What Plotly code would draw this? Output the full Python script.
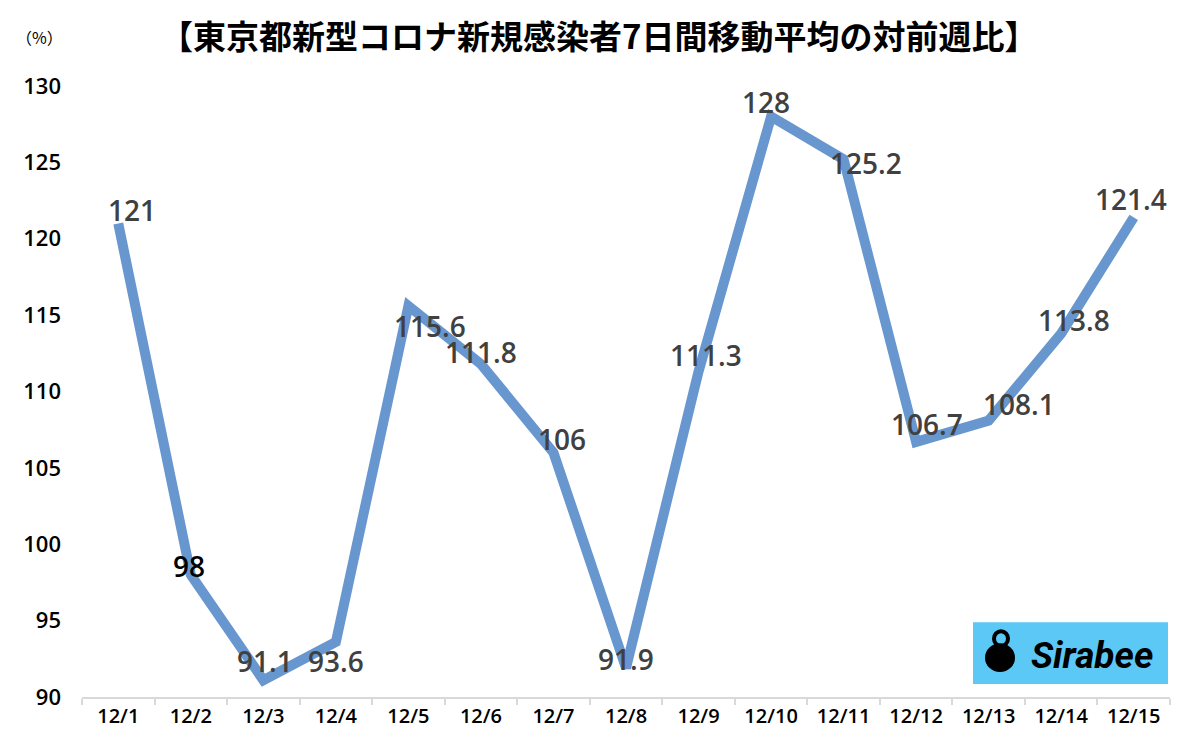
import plotly.graph_objects as go

dates = ["12/1", "12/2", "12/3", "12/4", "12/5", "12/6", "12/7", "12/8",
         "12/9", "12/10", "12/11", "12/12", "12/13", "12/14", "12/15"]
ratio = [121, 98, 91.1, 93.6, 115.6, 111.8, 106, 91.9,
         111.3, 128, 125.2, 106.7, 108.1, 113.8, 121.4]
value_labels = ["121", "98", "91.1", "93.6", "115.6", "111.8", "106", "91.9",
                "111.3", "128", "125.2", "106.7", "108.1", "113.8", "121.4"]
y_ticks = [90, 95, 100, 105, 110, 115, 120, 125, 130]

# label offsets in pixels (style only)
label_dx = [14, -2, 2, 0, 22, 0, 9, 0, 7, -5, 22, 11, 30, 13, -3]
label_dy = [13, 9, 19, -19, -20, 12, 14, 9, 17, 15, -4, 18, 17, 13, 18]

FONT = "Open Sans"
CJK = "Noto Sans CJK JP"

fig = go.Figure()
fig.add_trace(go.Scatter(
    x=dates, y=ratio, mode="lines",
    line=dict(color="#6897CF", width=10),
    hoverinfo="skip", showlegend=False,
))

for i, (d, v, t) in enumerate(zip(dates, ratio, value_labels)):
    fig.add_annotation(
        x=d, y=v, text=t, showarrow=False,
        xshift=label_dx[i], yshift=label_dy[i],
        font=dict(family=FONT, size=28, weight=600,
                  color="#000000" if i == 1 else "#404040"),
    )

fig.add_annotation(
    xref="paper", yref="paper", x=(598 - 82) / 1088, y=1.0, yshift=51,
    text="<b>【東京都新型コロナ新規感染者7日間移動平均の対前週比】</b>",
    showarrow=False, font=dict(family=CJK, size=33, color="#000000"),
    xanchor="center", yanchor="middle",
)
fig.add_annotation(
    xref="paper", yref="paper", x=(39 - 82) / 1088, y=1.0, yshift=49,
    text="（%）", showarrow=False,
    font=dict(family=CJK, size=16, color="#000000"),
    xanchor="center", yanchor="middle",
)

# Sirabee logo box
fig.add_shape(type="rect", xref="paper", yref="paper",
              x0=(973 - 82) / 1088, x1=(1168 - 82) / 1088,
              y0=(699 - 686) / 613, y1=(699 - 624) / 613,
              fillcolor="#5BC8F5", line=dict(width=0), layer="above")
fig.add_annotation(
    xref="paper", yref="paper", x=(1092 - 82) / 1088, y=(699 - 657) / 613,
    text="<b><i>Sirabee</i></b>", showarrow=False,
    font=dict(family="Roboto", size=37, color="#000000"),
    xanchor="center", yanchor="middle",
)
fig.add_shape(type="circle", xref="paper", yref="paper",
              x0=(985 - 82) / 1088, x1=(1015 - 82) / 1088,
              y0=(699 - 674) / 613, y1=(699 - 645) / 613,
              fillcolor="#000000", line=dict(width=0), layer="above")
fig.add_shape(type="circle", xref="paper", yref="paper",
              x0=(994 - 82) / 1088, x1=(1008 - 82) / 1088,
              y0=(699 - 648) / 613, y1=(699 - 633) / 613,
              fillcolor="rgba(0,0,0,0)", line=dict(width=4, color="#000000"),
              layer="above")

fig.update_layout(
    width=1200, height=741,
    margin=dict(l=82, r=30, t=86, b=42),
    paper_bgcolor="white", plot_bgcolor="white",
    font=dict(family=FONT, color="#000000"),
    xaxis=dict(
        type="category", range=[-0.5, 14.5],
        showgrid=False, showline=True, linecolor="#D9D9D9", linewidth=2,
        ticks="outside", tickson="boundaries", tickcolor="#D9D9D9",
        ticklen=6, tickwidth=2,
        tickfont=dict(family=FONT, size=20, weight=600, color="#000000"),
        zeroline=False,
    ),
    yaxis=dict(
        range=[90, 130], tickvals=y_ticks,
        showgrid=False, showline=False, zeroline=False,
        ticks="", ticklabelstandoff=20,
        tickfont=dict(family=FONT, size=22, weight=600, color="#000000"),
    ),
)

fig.write_html("out.html")
